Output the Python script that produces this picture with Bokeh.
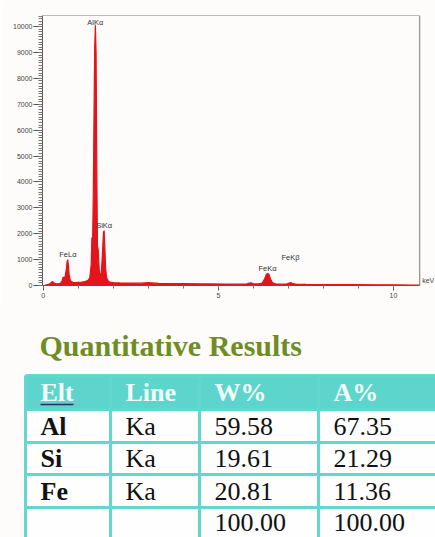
from bokeh.plotting import figure
from bokeh.models import Range1d, SingleIntervalTicker, Label, ColumnDataSource
from bokeh.layouts import column
from bokeh.embed import file_html
from bokeh.resources import INLINE
from bokeh.core.properties import value

# ---------------- data ----------------
energy_kev = [0.00, 0.05, 0.10, 0.15, 0.20, 0.24, 0.27, 0.30, 0.34, 0.40, 0.46, 0.50, 0.54, 0.57,
              0.60, 0.63, 0.66, 0.68, 0.70, 0.72, 0.74, 0.77, 0.80, 0.85, 0.90, 1.00, 1.10, 1.20,
              1.28, 1.33, 1.37, 1.39, 1.41, 1.43, 1.45, 1.47, 1.49, 1.51, 1.53, 1.55, 1.57, 1.60,
              1.63, 1.66, 1.69, 1.72, 1.74, 1.76, 1.78, 1.81, 1.85, 1.90, 2.00, 2.20, 2.50, 2.80,
              3.00, 3.30, 3.60, 4.00, 4.40, 4.80, 5.20, 5.60, 5.80, 5.88, 5.94, 6.02, 6.15, 6.25,
              6.32, 6.37, 6.41, 6.45, 6.49, 6.55, 6.65, 6.80, 6.95, 7.02, 7.07, 7.13, 7.25, 7.50,
              8.00, 8.50, 9.00, 9.50, 10.00, 10.50, 10.75]
counts = [0, 10, 30, 50, 80, 130, 150, 110, 70, 60, 70, 100, 180, 330,
          260, 380, 620, 900, 1000, 780, 420, 220, 150, 120, 110, 120, 130, 150,
          200, 300, 800, 1850, 1700, 3500, 6500, 9200, 10050, 9000, 4500, 1500, 1400, 600,
          350, 500, 1200, 2050, 2120, 1500, 700, 300, 180, 130, 110, 100, 95, 90,
          110, 80, 75, 70, 65, 60, 55, 50, 55, 90, 100, 60, 60, 90,
          250, 430, 470, 420, 250, 100, 55, 50, 55, 90, 110, 70, 45, 40,
          35, 30, 30, 25, 25, 20, 20]

peak_names = ["FeLα", "AlKα", "SiKα", "FeKα", "FeKβ"]
peak_energy = [0.705, 1.486, 1.740, 6.404, 7.058]
peak_label_counts = [1200, 10150, 2320, 660, 1080]

headers = ["Elt", "Line", "W%", "A%"]
elements = ["Al", "Si", "Fe", ""]
xray_lines = ["Ka", "Ka", "Ka", ""]
weight_pct = [59.58, 19.61, 20.81, 100.00]
atomic_pct = [67.35, 21.29, 11.36, 100.00]

BG = "#fdfcfa"
RED = "#e3141b"
X0, X1 = -0.02, 10.75
Y1 = 10430

# ---------------- spectrum ----------------
p = figure(width=435, height=305, output_backend="svg", toolbar_location=None,
           x_range=Range1d(X0, 11.2), y_range=Range1d(0, Y1),
           min_border_left=42, min_border_right=0, min_border_top=15, min_border_bottom=20)
p.frame_align = False
p.background_fill_color = BG
p.border_fill_color = BG
p.outline_line_color = None
p.grid.visible = False

# frame (top and right edges) drawn to the data extent
p.segment(x0=[X0, X1], x1=[X1, X1], y0=[Y1, 0], y1=[Y1, Y1], line_color="#777777", line_width=1)

p.varea(x=energy_kev, y1=0, y2=counts, fill_color=RED)
p.line(x=energy_kev, y=counts, line_color=RED, line_width=1.2)

src = ColumnDataSource(dict(x=peak_energy, y=peak_label_counts, t=peak_names))
p.text(x="x", y="y", text="t", source=src, text_font=value("Liberation Sans"),
       text_font_size="7.5px", text_color="#333333", text_align="center", text_baseline="middle")

p.yaxis.ticker = SingleIntervalTicker(interval=1000, num_minor_ticks=10)
p.xaxis.ticker = SingleIntervalTicker(interval=5, num_minor_ticks=5)
p.xaxis.bounds = (X0, X1)
for ax in (p.xaxis, p.yaxis):
    ax.axis_line_color = "#555555"
    ax.major_tick_line_color = "#555555"
    ax.minor_tick_line_color = "#777777"
    ax.major_label_text_font = "Liberation Sans"
    ax.major_label_text_font_size = "7px"
    ax.major_label_text_color = "#444444"
    ax.major_tick_in = 0
    ax.minor_tick_in = 0
p.yaxis.major_tick_out = 9
p.yaxis.minor_tick_out = 4
p.yaxis.major_label_standoff = 1
p.xaxis.major_tick_out = 5
p.xaxis.minor_tick_out = 3
p.xaxis.major_label_standoff = 2

p.add_layout(Label(x=10.82, y=180, text="keV", text_font="Liberation Sans",
                   text_font_size="7px", text_color="#444444", text_baseline="middle"))

# ---------------- table ----------------
t = figure(width=435, height=232, output_backend="svg", toolbar_location=None,
           x_range=Range1d(0, 435), y_range=Range1d(537, 305),
           min_border=0, min_border_left=0, min_border_right=0, min_border_top=0, min_border_bottom=0)
t.frame_align = False
t.axis.visible = False
t.grid.visible = False
t.outline_line_color = None
t.background_fill_color = BG
t.border_fill_color = BG

TEAL = "#5dd5cd"
LINE = "#62d7cf"
col_edges = [25, 110, 199, 318, 445]
row_edges = [375, 409, 442, 474, 507, 545]

t.text(x=[39], y=[345], text=["Quantitative Results"], text_font=value("Liberation Serif"),
       text_font_style="bold", text_font_size="30px", text_color="#6f8d22",
       text_align="left", text_baseline="middle")

t.quad(left=[col_edges[0]], right=[col_edges[-1]], top=[row_edges[0]], bottom=[row_edges[1]],
       fill_color=TEAL, line_color=None)
t.quad(left=[col_edges[0]], right=[col_edges[-1]], top=[row_edges[1]], bottom=[row_edges[-1]],
       fill_color="#fefefe", line_color=None)

t.segment(x0=[col_edges[0]] * len(row_edges), x1=[col_edges[-1]] * len(row_edges),
          y0=row_edges, y1=row_edges, line_color=LINE, line_width=3)
t.segment(x0=col_edges, x1=col_edges, y0=[row_edges[0]] * len(col_edges),
          y1=[row_edges[-1]] * len(col_edges), line_color=LINE, line_width=3)

header_y = (row_edges[0] + row_edges[1]) / 2
hx = [c + 15 for c in col_edges[:4]]
t.text(x=hx, y=[header_y] * 4, text=headers, text_font=value("Liberation Serif"),
       text_font_style="bold", text_font_size="26px", text_color="#f2fff9",
       text_align="left", text_baseline="middle")
t.segment(x0=[hx[0]], x1=[hx[0] + 33], y0=[404], y1=[404], line_color="#26306a", line_width=1.5)

row_y = [(row_edges[i] + row_edges[i + 1]) / 2 for i in range(1, len(row_edges) - 1)]
row_y[-1] = 522
t.text(x=[hx[0]] * len(elements), y=row_y, text=elements, text_font=value("Liberation Serif"),
       text_font_style="bold", text_font_size="26px", text_color="#111111",
       text_align="left", text_baseline="middle")
t.text(x=[hx[1]] * len(xray_lines), y=row_y, text=xray_lines, text_font=value("Liberation Serif"),
       text_font_size="26px", text_color="#111111", text_align="left", text_baseline="middle")
t.text(x=[hx[2]] * len(weight_pct), y=row_y, text=[f"{v:.2f}" for v in weight_pct],
       text_font=value("Liberation Serif"), text_font_size="26px", text_color="#111111",
       text_align="left", text_baseline="middle")
t.text(x=[hx[3]] * len(atomic_pct), y=row_y, text=[f"{v:.2f}" for v in atomic_pct],
       text_font=value("Liberation Serif"), text_font_size="26px", text_color="#111111",
       text_align="left", text_baseline="middle")

layout = column(p, t, spacing=0)
open("out.html", "w").write(file_html(layout, INLINE))
